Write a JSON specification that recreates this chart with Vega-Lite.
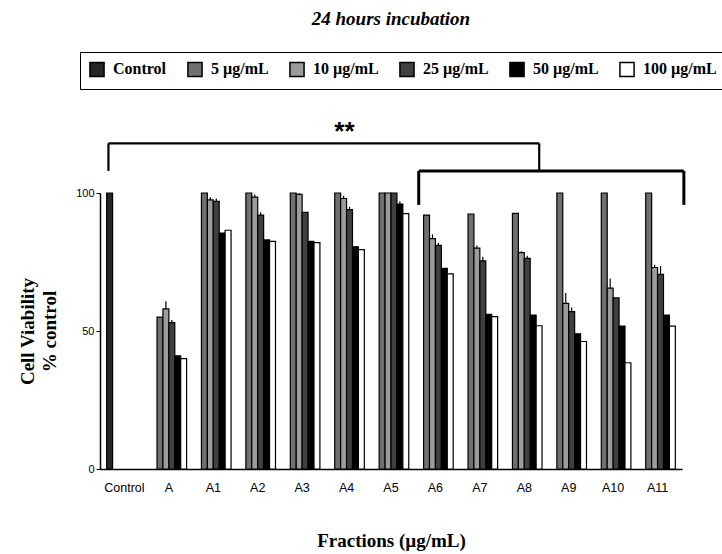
{
  "$schema": "https://vega.github.io/schema/vega-lite/v6.json",
  "autosize": "none",
  "width": 582,
  "height": 276,
  "padding": {"left": 100, "top": 193, "right": 40, "bottom": 85},
  "background": "white",
  "config": {"view": {"stroke": null}},
  "title": {
    "text": "24 hours incubation",
    "font": "Liberation Serif",
    "fontStyle": "italic",
    "fontWeight": "bold",
    "fontSize": 19,
    "color": "black",
    "offset": 23
  },
  "datasets": {
    "bars": [
      {"fraction": "Control", "conc": "Control", "value": 100, "err": 0},
      {"fraction": "A", "conc": "5 µg/mL", "value": 55, "err": 0},
      {"fraction": "A", "conc": "10 µg/mL", "value": 58, "err": 2.8},
      {"fraction": "A", "conc": "25 µg/mL", "value": 53, "err": 1},
      {"fraction": "A", "conc": "50 µg/mL", "value": 41, "err": 0},
      {"fraction": "A", "conc": "100 µg/mL", "value": 40, "err": 0},
      {"fraction": "A1", "conc": "5 µg/mL", "value": 100, "err": 0},
      {"fraction": "A1", "conc": "10 µg/mL", "value": 97.5, "err": 1},
      {"fraction": "A1", "conc": "25 µg/mL", "value": 97, "err": 1},
      {"fraction": "A1", "conc": "50 µg/mL", "value": 85.5, "err": 0},
      {"fraction": "A1", "conc": "100 µg/mL", "value": 86.5, "err": 0},
      {"fraction": "A2", "conc": "5 µg/mL", "value": 100, "err": 0},
      {"fraction": "A2", "conc": "10 µg/mL", "value": 98.5, "err": 1},
      {"fraction": "A2", "conc": "25 µg/mL", "value": 92, "err": 1},
      {"fraction": "A2", "conc": "50 µg/mL", "value": 83, "err": 0},
      {"fraction": "A2", "conc": "100 µg/mL", "value": 82.5, "err": 0},
      {"fraction": "A3", "conc": "5 µg/mL", "value": 100, "err": 0},
      {"fraction": "A3", "conc": "10 µg/mL", "value": 99.5, "err": 0.5},
      {"fraction": "A3", "conc": "25 µg/mL", "value": 93, "err": 0},
      {"fraction": "A3", "conc": "50 µg/mL", "value": 82.5, "err": 0},
      {"fraction": "A3", "conc": "100 µg/mL", "value": 82, "err": 0},
      {"fraction": "A4", "conc": "5 µg/mL", "value": 100, "err": 0},
      {"fraction": "A4", "conc": "10 µg/mL", "value": 98, "err": 1},
      {"fraction": "A4", "conc": "25 µg/mL", "value": 94, "err": 1},
      {"fraction": "A4", "conc": "50 µg/mL", "value": 80.5, "err": 0},
      {"fraction": "A4", "conc": "100 µg/mL", "value": 79.5, "err": 0},
      {"fraction": "A5", "conc": "5 µg/mL", "value": 100, "err": 0},
      {"fraction": "A5", "conc": "10 µg/mL", "value": 100, "err": 0},
      {"fraction": "A5", "conc": "25 µg/mL", "value": 100, "err": 0},
      {"fraction": "A5", "conc": "50 µg/mL", "value": 96, "err": 1},
      {"fraction": "A5", "conc": "100 µg/mL", "value": 92.5, "err": 0},
      {"fraction": "A6", "conc": "5 µg/mL", "value": 92, "err": 0},
      {"fraction": "A6", "conc": "10 µg/mL", "value": 83.5, "err": 1.5},
      {"fraction": "A6", "conc": "25 µg/mL", "value": 81, "err": 1},
      {"fraction": "A6", "conc": "50 µg/mL", "value": 72.7, "err": 0},
      {"fraction": "A6", "conc": "100 µg/mL", "value": 70.7, "err": 0},
      {"fraction": "A7", "conc": "5 µg/mL", "value": 92.4, "err": 0},
      {"fraction": "A7", "conc": "10 µg/mL", "value": 80, "err": 1},
      {"fraction": "A7", "conc": "25 µg/mL", "value": 75.4, "err": 1.5},
      {"fraction": "A7", "conc": "50 µg/mL", "value": 56, "err": 0},
      {"fraction": "A7", "conc": "100 µg/mL", "value": 55.2, "err": 0},
      {"fraction": "A8", "conc": "5 µg/mL", "value": 92.6, "err": 0},
      {"fraction": "A8", "conc": "10 µg/mL", "value": 78.4, "err": 0.5},
      {"fraction": "A8", "conc": "25 µg/mL", "value": 76.3, "err": 1},
      {"fraction": "A8", "conc": "50 µg/mL", "value": 55.8, "err": 0},
      {"fraction": "A8", "conc": "100 µg/mL", "value": 51.9, "err": 0},
      {"fraction": "A9", "conc": "5 µg/mL", "value": 100, "err": 0},
      {"fraction": "A9", "conc": "10 µg/mL", "value": 60, "err": 3.8},
      {"fraction": "A9", "conc": "25 µg/mL", "value": 57, "err": 1.5},
      {"fraction": "A9", "conc": "50 µg/mL", "value": 49, "err": 0},
      {"fraction": "A9", "conc": "100 µg/mL", "value": 46.2, "err": 0},
      {"fraction": "A10", "conc": "5 µg/mL", "value": 100, "err": 0},
      {"fraction": "A10", "conc": "10 µg/mL", "value": 65.5, "err": 3.5},
      {"fraction": "A10", "conc": "25 µg/mL", "value": 62, "err": 0},
      {"fraction": "A10", "conc": "50 µg/mL", "value": 51.8, "err": 0},
      {"fraction": "A10", "conc": "100 µg/mL", "value": 38.5, "err": 0},
      {"fraction": "A11", "conc": "5 µg/mL", "value": 100, "err": 0},
      {"fraction": "A11", "conc": "10 µg/mL", "value": 73, "err": 1},
      {"fraction": "A11", "conc": "25 µg/mL", "value": 70.5, "err": 3},
      {"fraction": "A11", "conc": "50 µg/mL", "value": 55.8, "err": 0},
      {"fraction": "A11", "conc": "100 µg/mL", "value": 51.8, "err": 0}
    ],
    "stars": [{"label": "**"}],
    "one": [{"item": "bracket"}]
  },
  "layer": [
    {
      "data": {"name": "bars"},
      "mark": {"type": "bar", "stroke": "black", "strokeWidth": 1.2},
      "encoding": {
        "x": {
          "field": "fraction",
          "type": "nominal",
          "sort": ["Control", "A", "A1", "A2", "A3", "A4", "A5", "A6", "A7", "A8", "A9", "A10", "A11"],
          "scale": {"paddingInner": 0.2, "paddingOuter": 0.15},
          "axis": {
            "title": "Fractions (µg/mL)",
            "titleFont": "Liberation Serif",
            "titleFontWeight": "bold",
            "titleFontSize": 19,
            "titleColor": "black",
            "titlePadding": 38,
            "labelAngle": 0,
            "labelFont": "Liberation Sans",
            "labelFontSize": 12.5,
            "labelColor": "black",
            "labelPadding": 12,
            "ticks": false,
            "domainColor": "black",
            "domainWidth": 1.5
          }
        },
        "xOffset": {
          "field": "conc",
          "type": "nominal",
          "sort": ["Control", "5 µg/mL", "10 µg/mL", "25 µg/mL", "50 µg/mL", "100 µg/mL"]
        },
        "y": {
          "field": "value",
          "type": "quantitative",
          "scale": {"domain": [0, 100], "nice": false},
          "axis": {
            "title": ["Cell Viability", "% control"],
            "titleFont": "Liberation Serif",
            "titleFontWeight": "bold",
            "titleFontSize": 19,
            "titleColor": "black",
            "titlePadding": 16,
            "titleLineHeight": 22,
            "values": [0, 50, 100],
            "grid": false,
            "labelFont": "Liberation Sans",
            "labelFontSize": 11,
            "labelColor": "black",
            "tickColor": "black",
            "tickSize": 4,
            "domainColor": "black",
            "domainWidth": 1.5
          }
        },
        "fill": {
          "field": "conc",
          "type": "nominal",
          "sort": ["Control", "5 µg/mL", "10 µg/mL", "25 µg/mL", "50 µg/mL", "100 µg/mL"],
          "scale": {
            "domain": ["Control", "5 µg/mL", "10 µg/mL", "25 µg/mL", "50 µg/mL", "100 µg/mL"],
            "range": ["#262626", "#707070", "#9c9c9c", "#404040", "#000000", "#ffffff"]
          },
          "legend": {
            "title": null,
            "orient": "none",
            "legendX": -20,
            "legendY": -141,
            "direction": "horizontal",
            "columns": 6,
            "strokeColor": "black",
            "padding": 9,
            "symbolType": "square",
            "symbolSize": 200,
            "symbolStrokeColor": "black",
            "symbolStrokeWidth": 1.5,
            "labelFont": "Liberation Serif",
            "labelFontWeight": "bold",
            "labelFontSize": 16,
            "labelColor": "black",
            "labelOffset": 8,
            "columnPadding": 17
          }
        }
      }
    },
    {
      "data": {"name": "bars"},
      "transform": [{"filter": "datum.err > 0"}, {"calculate": "datum.value + datum.err", "as": "upper"}],
      "mark": {"type": "rule", "strokeWidth": 1.2, "color": "black"},
      "encoding": {
        "x": {"field": "fraction", "type": "nominal", "sort": ["Control", "A", "A1", "A2", "A3", "A4", "A5", "A6", "A7", "A8", "A9", "A10", "A11"]},
        "xOffset": {"field": "conc", "type": "nominal", "sort": ["Control", "5 µg/mL", "10 µg/mL", "25 µg/mL", "50 µg/mL", "100 µg/mL"]},
        "y": {"field": "value", "type": "quantitative"},
        "y2": {"field": "upper"}
      }
    },
    {
      "data": {"name": "one"},
      "mark": {"type": "rule", "strokeWidth": 2.2, "color": "black"},
      "encoding": {
        "x": {"datum": "Control", "bandPosition": 0.05},
        "x2": {"datum": "A8", "bandPosition": 0.92},
        "y": {"datum": 118}
      }
    },
    {
      "data": {"name": "one"},
      "mark": {"type": "rule", "strokeWidth": 2.2, "color": "black"},
      "encoding": {
        "x": {"datum": "Control", "bandPosition": 0.05},
        "y": {"datum": 118},
        "y2": {"datum": 108}
      }
    },
    {
      "data": {"name": "one"},
      "mark": {"type": "rule", "strokeWidth": 2.2, "color": "black"},
      "encoding": {
        "x": {"datum": "A8", "bandPosition": 0.92},
        "y": {"datum": 118},
        "y2": {"datum": 108}
      }
    },
    {
      "data": {"name": "one"},
      "mark": {"type": "rule", "strokeWidth": 3, "color": "black"},
      "encoding": {
        "x": {"datum": "A6", "bandPosition": 0.03},
        "x2": {"datum": "A11", "bandPosition": 1.24},
        "y": {"datum": 108}
      }
    },
    {
      "data": {"name": "one"},
      "mark": {"type": "rule", "strokeWidth": 3, "color": "black"},
      "encoding": {
        "x": {"datum": "A6", "bandPosition": 0.03},
        "y": {"datum": 108},
        "y2": {"datum": 95.7}
      }
    },
    {
      "data": {"name": "one"},
      "mark": {"type": "rule", "strokeWidth": 3, "color": "black"},
      "encoding": {
        "x": {"datum": "A11", "bandPosition": 1.24},
        "y": {"datum": 108},
        "y2": {"datum": 95.7}
      }
    },
    {
      "data": {"name": "stars"},
      "mark": {"type": "text", "font": "Liberation Sans", "fontSize": 26, "fontWeight": "bold", "baseline": "middle", "color": "black"},
      "encoding": {
        "x": {"datum": "A4", "bandPosition": 0.44},
        "y": {"datum": 122},
        "text": {"field": "label"}
      }
    }
  ]
}
